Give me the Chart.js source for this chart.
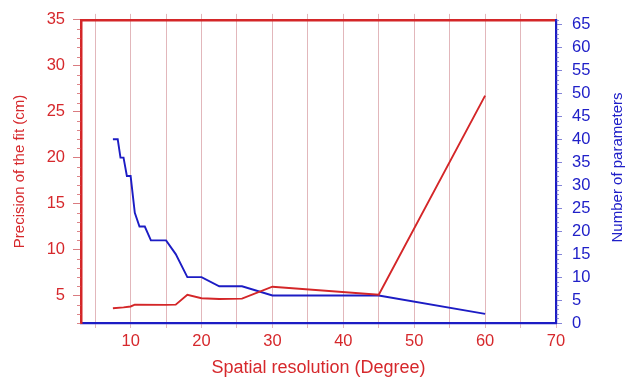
<!DOCTYPE html>
<html>
<head>
<meta charset="utf-8">
<script src="https://cdn.jsdelivr.net/npm/chart.js@4/dist/chart.umd.min.js"></script>
<style>
  html, body { margin: 0; padding: 0; background: #fff; }
  #wrap { width: 639px; height: 382px; position: relative; }
</style>
</head>
<body>
<div id="wrap"><canvas id="c"></canvas></div>
<script>
// ---- data ----
const resolutionBlue = [7.5, 8.18, 8.57, 9, 9.47, 10, 10.59, 11.25, 12, 12.86, 15, 16.36, 18, 20, 22.5, 25.71, 30, 45, 60];
const numParameters  = [40, 40, 36, 36, 32, 32, 24, 21, 21, 18, 18, 15, 10, 10, 8, 8, 6, 6, 2];
const resolutionRed  = [7.5, 9, 10, 10.59, 15, 16.36, 18, 20, 22.5, 25.71, 30, 45, 60];
const precisionCm    = [3.6, 3.7, 3.8, 4.0, 3.97, 4.0, 5.07, 4.7, 4.62, 4.65, 5.95, 5.07, 26.75];

const xTicks      = [5, 10, 15, 20, 25, 30, 35, 40, 45, 50, 55, 60, 65, 70];
const leftTicks   = [5, 10, 15, 20, 25, 30, 35];
const rightTicks  = [0, 5, 10, 15, 20, 25, 30, 35, 40, 45, 50, 55, 60, 65];

const xTitle     = 'Spatial resolution (Degree)';
const leftTitle  = 'Precision of the fit (cm)';
const rightTitle = 'Number of parameters';

// ---- styles ----
const RED = 'rgb(212,38,40)';
const BLUE = 'rgb(28,28,196)';
const RED_TXT = 'rgb(214,40,44)';
const BLUE_TXT = 'rgb(32,32,200)';
const GRID = 'rgba(190,95,105,0.45)';
const FONT = "'Liberation Sans', Arial, Helvetica, sans-serif";

const toPts = (xs, ys) => xs.map((x, i) => ({ x: x, y: ys[i] }));

const extras = {
  id: 'extras',
  afterDraw(chart) {
    const ctx = chart.ctx;
    const yl = chart.scales.y, yr = chart.scales.y1;
    ctx.save();
    ctx.lineWidth = 1;
    ctx.strokeStyle = 'rgba(205,80,85,0.7)';
    for (let v = Math.ceil(yl.min); v <= yl.max; v++) {
      if (v % 5 === 0) continue;
      const p = Math.round(yl.getPixelForValue(v)) + 0.5;
      ctx.beginPath(); ctx.moveTo(yl.right - 4, p); ctx.lineTo(yl.right, p); ctx.stroke();
    }
    ctx.strokeStyle = 'rgba(80,80,200,0.6)';
    for (let v = Math.ceil(yr.min); v <= yr.max; v++) {
      if (v % 5 === 0) continue;
      const p = Math.round(yr.getPixelForValue(v)) + 0.5;
      ctx.beginPath(); ctx.moveTo(yr.left, p); ctx.lineTo(yr.left + 3, p); ctx.stroke();
    }
    // right-axis title, reading bottom-to-top like the reference
    const ca = chart.chartArea;
    ctx.fillStyle = BLUE_TXT;
    ctx.font = '15px ' + FONT;
    ctx.textAlign = 'center';
    ctx.textBaseline = 'middle';
    ctx.translate(yr.right - 21, (ca.top + ca.bottom) / 2 - 4);
    ctx.rotate(-Math.PI / 2);
    ctx.fillText(rightTitle, 0, 0);
    ctx.restore();
  }
};

new Chart(document.getElementById('c'), {
  type: 'line',
  data: {
    datasets: [
      {
        label: leftTitle,
        data: toPts(resolutionRed, precisionCm),
        yAxisID: 'y',
        borderColor: RED,
        borderWidth: 1.9,
        pointRadius: 0,
        tension: 0,
        fill: false
      },
      {
        label: rightTitle,
        data: toPts(resolutionBlue, numParameters),
        yAxisID: 'y1',
        borderColor: BLUE,
        borderWidth: 1.9,
        pointRadius: 0,
        tension: 0,
        fill: false
      }
    ]
  },
  options: {
    responsive: true,
    maintainAspectRatio: false,
    animation: false,
    layout: { padding: 0 },
    plugins: { legend: { display: false }, tooltip: { enabled: false } },
    scales: {
      x: {
        type: 'linear',
        position: 'bottom',
        min: 3, max: 70,
        afterBuildTicks: s => { s.ticks = xTicks.map(v => ({ value: v })); },
        afterFit: s => { s.height = 59; },
        grid: { color: GRID, lineWidth: 1, drawTicks: true, tickLength: 5, tickColor: GRID },
        border: { display: true, color: BLUE, width: 2.2 },
        ticks: {
          color: RED_TXT, padding: 4, maxRotation: 0, autoSkip: false,
          font: { family: FONT, size: 16.5 },
          callback: v => (v % 10 === 0 ? String(v) : '')
        },
        title: {
          display: true, text: xTitle, color: RED_TXT,
          font: { family: FONT, size: 18 },
          padding: { top: 0, bottom: 3 }
        }
      },
      x2: {
        type: 'linear',
        position: 'top',
        min: 3, max: 70,
        afterBuildTicks: s => { s.ticks = xTicks.map(v => ({ value: v })); },
        afterFit: s => { s.height = 11; },
        grid: { drawOnChartArea: false, drawTicks: true, tickLength: 6, tickColor: GRID },
        border: { display: true, color: RED, width: 2.5 },
        ticks: { display: false }
      },
      y: {
        type: 'linear',
        position: 'left',
        min: 2, max: 35,
        afterBuildTicks: s => { s.ticks = leftTicks.map(v => ({ value: v })); },
        afterFit: s => { s.width = 81; },
        grid: { drawOnChartArea: false, drawTicks: true, tickLength: 8, tickColor: 'rgba(205,80,85,0.75)' },
        border: { display: true, color: RED, width: 2.5 },
        ticks: { color: RED_TXT, padding: 8, font: { family: FONT, size: 16.5 } },
        title: {
          display: true, text: leftTitle, color: RED_TXT,
          font: { family: FONT, size: 15 },
          padding: { top: 11, bottom: 0 }
        }
      },
      y1: {
        type: 'linear',
        position: 'right',
        min: 0, max: 66,
        afterBuildTicks: s => { s.ticks = rightTicks.map(v => ({ value: v })); },
        afterFit: s => { s.width = 83; },
        grid: { drawOnChartArea: false, drawTicks: true, tickLength: 6, tickColor: 'rgba(80,80,200,0.7)' },
        border: { display: true, color: BLUE, width: 2.2 },
        ticks: { color: BLUE_TXT, padding: 10, font: { family: FONT, size: 16.5 } },
        title: { display: false }
      }
    }
  },
  plugins: [extras]
});
</script>
</body>
</html>
